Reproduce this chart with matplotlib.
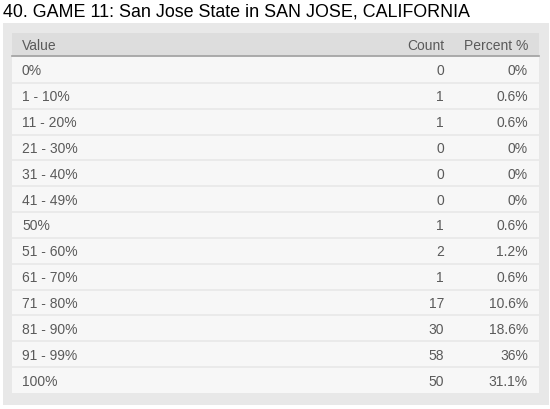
import matplotlib
matplotlib.use("Agg")
import matplotlib.pyplot as plt
from matplotlib.patches import Rectangle

title = "40. GAME 11: San Jose State in SAN JOSE, CALIFORNIA"
columns = ["Value", "Count", "Percent %"]
values = ["0%", "1 - 10%", "11 - 20%", "21 - 30%", "31 - 40%", "41 - 49%", "50%",
          "51 - 60%", "61 - 70%", "71 - 80%", "81 - 90%", "91 - 99%", "100%"]
counts = [0, 1, 1, 0, 0, 0, 1, 2, 1, 17, 30, 58, 50]
percents = ["0%", "0.6%", "0.6%", "0%", "0%", "0%", "0.6%", "1.2%", "0.6%",
            "10.6%", "18.6%", "36%", "31.1%"]

plt.rcParams['font.family'] = ['Liberation Sans', 'DejaVu Sans']
W, H = 550, 410
fig = plt.figure(figsize=(5.5, 4.1), dpi=100)
ax = fig.add_axes([0, 0, 1, 1])
ax.set_xlim(0, W)
ax.set_ylim(H, 0)
ax.axis('off')
fig.patch.set_facecolor('white')

text_color = '#5a5a5a'
# title
ax.text(3, 12, title, fontsize=12.9, color='#000000', va='center', ha='left')
# outer panel
ax.add_patch(Rectangle((3, 24), 546, 382, facecolor='#e8e8e8', edgecolor='none'))
# header
left, right = 12, 539
hdr_top, hdr_bot = 34, 57
ax.add_patch(Rectangle((left, hdr_top), right - left, hdr_bot - hdr_top,
                       facecolor='#dddddd', edgecolor='none'))
ax.plot([left, right], [hdr_bot, hdr_bot], color='#a0a0a0', lw=1.2)
fs = 10
hy = (hdr_top + hdr_bot) / 2 + 0.5
x_val, x_cnt, x_pct = 22, 444, 528
ax.text(x_val, hy, columns[0], fontsize=fs, color=text_color, va='center', ha='left')
ax.text(x_cnt, hy, columns[1], fontsize=fs, color=text_color, va='center', ha='right')
ax.text(x_pct, hy, columns[2], fontsize=fs, color=text_color, va='center', ha='right')

row_top = 58
row_h = (394 - row_top) / len(values)
for i, (v, c, p) in enumerate(zip(values, counts, percents)):
    y0 = row_top + i * row_h
    ax.add_patch(Rectangle((left, y0), right - left, row_h,
                           facecolor='#f7f7f7', edgecolor='none'))
    if i > 0:
        ax.plot([left, right], [y0, y0], color='#e8e8e8', lw=1.2)
    yc = y0 + row_h / 2 + 0.5
    ax.text(x_val, yc, v, fontsize=fs, color=text_color, va='center', ha='left')
    ax.text(x_cnt, yc, str(c), fontsize=fs, color=text_color, va='center', ha='right')
    ax.text(x_pct, yc, p, fontsize=fs, color=text_color, va='center', ha='right')

fig.savefig('out.png', dpi=100, facecolor='white')
